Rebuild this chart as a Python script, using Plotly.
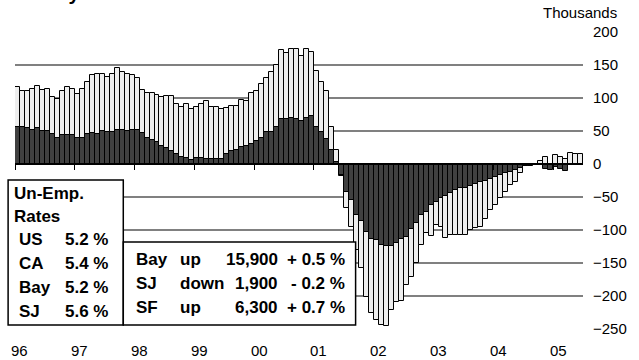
import plotly.graph_objects as go

# Monthly data, Jan 1996 - Jun 2005 (thousands, change vs. year ago)
months = list(range(114))
bay_area = [
    116, 110, 110, 113, 118, 112, 113, 102, 98, 111, 116, 114,
    106, 113, 124, 135, 136, 136, 132, 136, 145, 140, 136, 135,
    130, 112, 107, 107, 104, 101, 103, 103, 91, 87, 91, 84,
    87, 91, 95, 87, 86, 83, 85, 88, 88, 97, 95, 107,
    110, 121, 131, 140, 150, 172, 168, 174, 174, 164, 174, 169,
    141, 125, 110, 56, 21, -18, -66, -95, -130, -158, -201, -226,
    -237, -244, -246, -221, -209, -207, -183, -171, -150, -122, -104, -109,
    -92, -95, -112, -108, -107, -108, -107, -100, -97, -96, -84, -70,
    -62, -52, -42, -32, -27, -14, -3, -2, -1, 5, 10, 0,
    14, 10, 8, 17, 15, 15,
]
san_jose = [
    56, 56, 54, 51, 54, 50, 50, 45, 40, 44, 44, 44,
    40, 40, 45, 47, 45, 50, 49, 49, 52, 51, 50, 52,
    52, 47, 39, 36, 34, 27, 24, 20, 15, 11, 9, 6,
    9, 9, 8, 8, 8, 8, 15, 19, 21, 26, 28, 30,
    35, 40, 48, 48, 56, 68, 68, 69, 68, 65, 69, 72,
    56, 49, 38, 21, 3, -16, -43, -55, -77, -86, -103, -113,
    -115, -123, -124, -124, -120, -113, -110, -98, -90, -78, -72, -62,
    -57, -52, -48, -44, -40, -37, -36, -33, -30, -28, -26, -22,
    -20, -17, -14, -12, -9, -6, -3, -3, -1, -1, -8, -9,
    -4, -8, -10, -2, -2, -2,
]
year_labels = ["96", "97", "98", "99", "00", "01", "02", "03", "04", "05"]
y_ticks = [200, 150, 100, 50, 0, -50, -100, -150, -200, -250]

rate_regions = ["US", "CA", "Bay", "SJ"]
rate_values = ["5.2 %", "5.4 %", "5.2 %", "5.6 %"]
chg_regions = ["Bay", "SJ", "SF"]
chg_dirs = ["up", "down", "up"]
chg_nums = ["15,900", "1,900", "6,300"]
chg_pcts = ["+ 0.5 %", "- 0.2 %", "+ 0.7 %"]

W, H = 639, 360
X0, X1, Y0, Y1 = 15, 592, 32, 329
FONT = "Liberation Sans, Arial, sans-serif"


def px(x):
    return (x - X0) / (X1 - X0)


def py(y):
    return (Y1 - y) / (Y1 - Y0)


fig = go.Figure()
fig.add_trace(go.Bar(x=months, y=bay_area, width=1,
                     marker=dict(color="#eeeeee", line=dict(color="black", width=1))))
fig.add_trace(go.Bar(x=months, y=san_jose, width=1,
                     marker=dict(color="#404040", line=dict(color="black", width=1))))

ann = []
# title (mostly cut off at the top in the reference)
ann.append(dict(text="Bay Area and San Jose Job Growth Year over Year", x=px(287), y=py(-7),
                xref="paper", yref="paper",
                xanchor="center", yanchor="middle", showarrow=False,
                font=dict(family=FONT, size=20, color="black", weight="bold")))
ann.append(dict(text="Thousands", x=px(629), y=py(12), xref="paper", yref="paper",
                xanchor="right", yanchor="middle", showarrow=False,
                font=dict(family=FONT, size=15, color="black")))
for i, lab in enumerate(year_labels):
    ann.append(dict(text=lab, x=12 * i + 0.5, y=py(350), xref="x", yref="paper",
                    xanchor="center", yanchor="middle", showarrow=False,
                    font=dict(family=FONT, size=15, color="black")))

bold = dict(family=FONT, size=17, color="black", weight="bold")
ann.append(dict(text="Un-Emp.", x=px(12), y=py(193), xref="paper", yref="paper",
                xanchor="left", yanchor="middle", showarrow=False, font=bold))
ann.append(dict(text="Rates", x=px(12), y=py(216.5), xref="paper", yref="paper",
                xanchor="left", yanchor="middle", showarrow=False, font=bold))
for k, (r, v) in enumerate(zip(rate_regions, rate_values)):
    yy = 240 + 23.7 * k
    ann.append(dict(text=r, x=px(17), y=py(yy), xref="paper", yref="paper",
                    xanchor="left", yanchor="middle", showarrow=False, font=bold))
    ann.append(dict(text=v, x=px(111), y=py(yy), xref="paper", yref="paper",
                    xanchor="right", yanchor="middle", showarrow=False, font=bold))
for k in range(3):
    yy = 259 + 24 * k
    ann.append(dict(text=chg_regions[k], x=px(136), y=py(yy), xref="paper", yref="paper",
                    xanchor="left", yanchor="middle", showarrow=False, font=bold))
    ann.append(dict(text=chg_dirs[k], x=px(181), y=py(yy), xref="paper", yref="paper",
                    xanchor="left", yanchor="middle", showarrow=False, font=bold))
    ann.append(dict(text=chg_nums[k], x=px(284), y=py(yy), xref="paper", yref="paper",
                    xanchor="right", yanchor="middle", showarrow=False, font=bold))
    ann.append(dict(text=chg_pcts[k], x=px(352), y=py(yy), xref="paper", yref="paper",
                    xanchor="right", yanchor="middle", showarrow=False, font=bold))

shapes = [
    dict(type="rect", xref="paper", yref="paper", x0=px(8), x1=px(125), y0=py(325), y1=py(180),
         line=dict(color="black", width=1.5), fillcolor="white", layer="above"),
    dict(type="rect", xref="paper", yref="paper", x0=px(125), x1=px(361), y0=py(325), y1=py(242),
         line=dict(color="black", width=1.5), fillcolor="white", layer="above"),
]

fig.update_layout(
    width=W, height=H, autosize=False,
    margin=dict(l=X0, r=W - X1, t=Y0, b=H - Y1, pad=0),
    paper_bgcolor="white", plot_bgcolor="white",
    barmode="overlay", bargap=0, showlegend=False,
    xaxis=dict(range=[-0.5, 113.5], anchor="free", position=250 / 450,
               showline=True, linecolor="black", linewidth=1.5,
               ticks="outside", ticklen=5, tickwidth=1, tickcolor="black",
               tickvals=[12 * i - 0.5 for i in range(10)], showticklabels=False,
               showgrid=False, zeroline=False),
    yaxis=dict(range=[-250, 200], tickvals=y_ticks, side="right",
               showgrid=True, gridcolor="#808080", gridwidth=1.5,
               zeroline=False, showline=False, ticks="",
               ticklabelstandoff=9,
               tickfont=dict(family=FONT, size=15, color="black")),
    annotations=ann, shapes=shapes,
)

fig.write_html("out.html", config={"displayModeBar": False},
               post_script="document.body.style.margin='0';document.body.style.overflow='hidden';")
